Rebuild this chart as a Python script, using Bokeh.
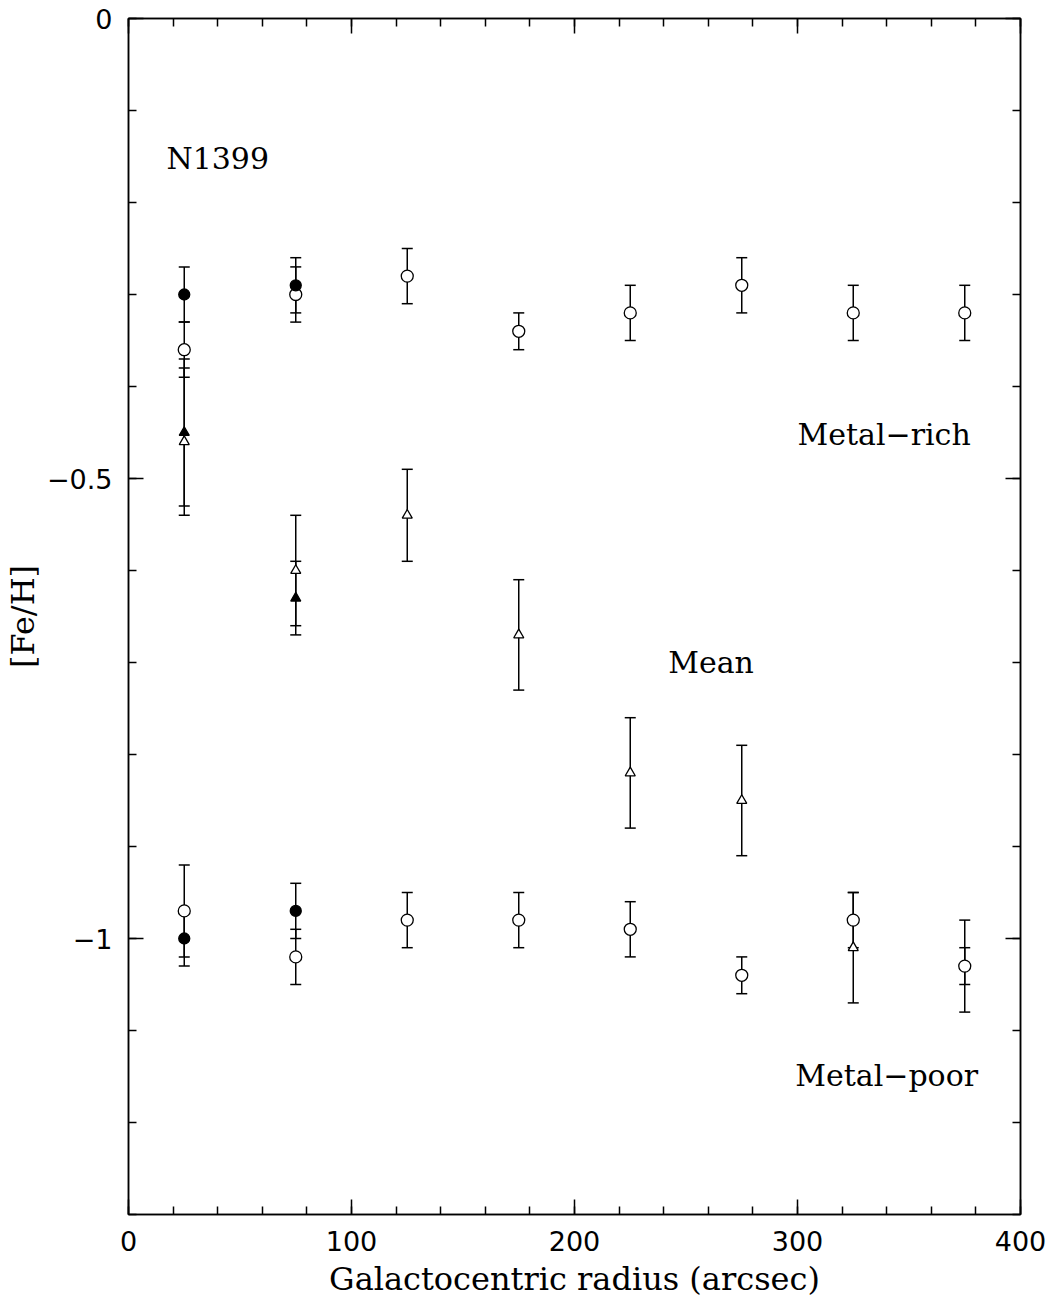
from bokeh.plotting import figure
from bokeh.models import (ColumnDataSource, Whisker, TeeHead, LinearAxis,
                          SingleIntervalTicker, Range1d, Label)
from bokeh.embed import file_html
from bokeh.resources import INLINE

# ---- data ----
radius = [25, 75, 125, 175, 225, 275, 325, 375]
rich_open = [-0.36, -0.30, -0.28, -0.34, -0.32, -0.29, -0.32, -0.32]
rich_open_err = [0.03, 0.03, 0.03, 0.02, 0.03, 0.03, 0.03, 0.03]
mean_open = [-0.46, -0.60, -0.54, -0.67, -0.82, -0.85, -1.01, -1.03]
mean_open_err = [0.08, 0.06, 0.05, 0.06, 0.06, 0.06, 0.06, 0.05]
poor_open = [-0.97, -1.02, -0.98, -0.98, -0.99, -1.04, -0.98, -1.03]
poor_open_err = [0.05, 0.03, 0.03, 0.03, 0.03, 0.02, 0.03, 0.02]

radius_fill = [25, 75]
rich_fill = [-0.30, -0.29]
rich_fill_err = [0.03, 0.03]
mean_fill = [-0.45, -0.63]
mean_fill_err = [0.08, 0.04]
poor_fill = [-1.00, -0.97]
poor_fill_err = [0.03, 0.03]

y_tick_labels = {0: "0", -0.5: "\u22120.5", -1: "\u22121"}

SERIF = "DejaVu Serif"
SANS = "DejaVu Sans"

p = figure(width=1055, height=1306, output_backend="svg", toolbar_location=None,
           x_range=Range1d(0, 400), y_range=Range1d(-1.3, 0),
           min_border_left=127, min_border_right=35, min_border_top=18,
           min_border_bottom=92)
p.grid.visible = False
p.outline_line_color = "black"
p.outline_line_width = 1.5
p.background_fill_color = "white"
p.border_fill_color = "white"

xt = SingleIntervalTicker(interval=100, num_minor_ticks=5)
yt = SingleIntervalTicker(interval=0.5, num_minor_ticks=5)


def style_axis(ax, labels=True):
    ax.major_tick_in = 15
    ax.major_tick_out = 0
    ax.minor_tick_in = 8
    ax.minor_tick_out = 0
    ax.axis_line_width = 1.5
    ax.major_tick_line_width = 1.5
    ax.minor_tick_line_width = 1.5
    ax.axis_line_color = "black"
    ax.major_tick_line_color = "black"
    ax.minor_tick_line_color = "black"
    if labels:
        ax.major_label_text_font = SANS
        ax.major_label_text_font_size = "27px"
        ax.major_label_text_color = "black"
        ax.major_label_standoff = 16
        ax.axis_label_text_font = SERIF
        ax.axis_label_text_font_size = "32px"
        ax.axis_label_text_font_style = "normal"
        ax.axis_label_text_color = "black"
    else:
        ax.major_label_text_font_size = "0px"
        ax.major_label_text_color = None


p.xaxis[0].ticker = xt
p.yaxis[0].ticker = yt
style_axis(p.xaxis[0])
style_axis(p.yaxis[0])
p.xaxis[0].axis_label = "Galactocentric radius (arcsec)"
p.yaxis[0].axis_label = "[Fe/H]"
p.xaxis[0].axis_label_standoff = 6
p.yaxis[0].axis_label_standoff = 2
p.yaxis[0].major_label_overrides = y_tick_labels

top = LinearAxis(ticker=xt)
style_axis(top, labels=False)
p.add_layout(top, "above")
right = LinearAxis(ticker=yt)
style_axis(right, labels=False)
p.add_layout(right, "right")


def add_series(xs, ys, errs, marker, filled, size):
    src = ColumnDataSource(dict(
        x=xs, y=ys,
        upper=[v + e for v, e in zip(ys, errs)],
        lower=[v - e for v, e in zip(ys, errs)]))
    w = Whisker(source=src, base="x", upper="upper", lower="lower",
                dimension="height", line_color="black", line_width=1.5,
                upper_head=TeeHead(size=11, line_color="black", line_width=1.5),
                lower_head=TeeHead(size=11, line_color="black", line_width=1.5))
    p.add_layout(w)
    p.scatter("x", "y", source=src, marker=marker, size=size,
              line_color="black", line_width=1.3,
              fill_color="black" if filled else "white")


add_series(radius, rich_open, rich_open_err, "circle", False, 12)
add_series(radius, mean_open, mean_open_err, "triangle", False, 10)
add_series(radius, poor_open, poor_open_err, "circle", False, 12)
add_series(radius_fill, rich_fill, rich_fill_err, "circle", True, 11)
add_series(radius_fill, mean_fill, mean_fill_err, "triangle", True, 10)
add_series(radius_fill, poor_fill, poor_fill_err, "circle", True, 11)

for txt, xx, yy in [("N1399", 17, -0.1525), ("Metal\u2212rich", 300, -0.452),
                    ("Mean", 242, -0.70), ("Metal\u2212poor", 299, -1.149)]:
    p.add_layout(Label(x=xx, y=yy, text=txt, text_font=SERIF,
                       text_font_size="30px", text_baseline="middle",
                       text_align="left", text_color="black"))

open("out.html", "w").write(file_html(p, INLINE))
